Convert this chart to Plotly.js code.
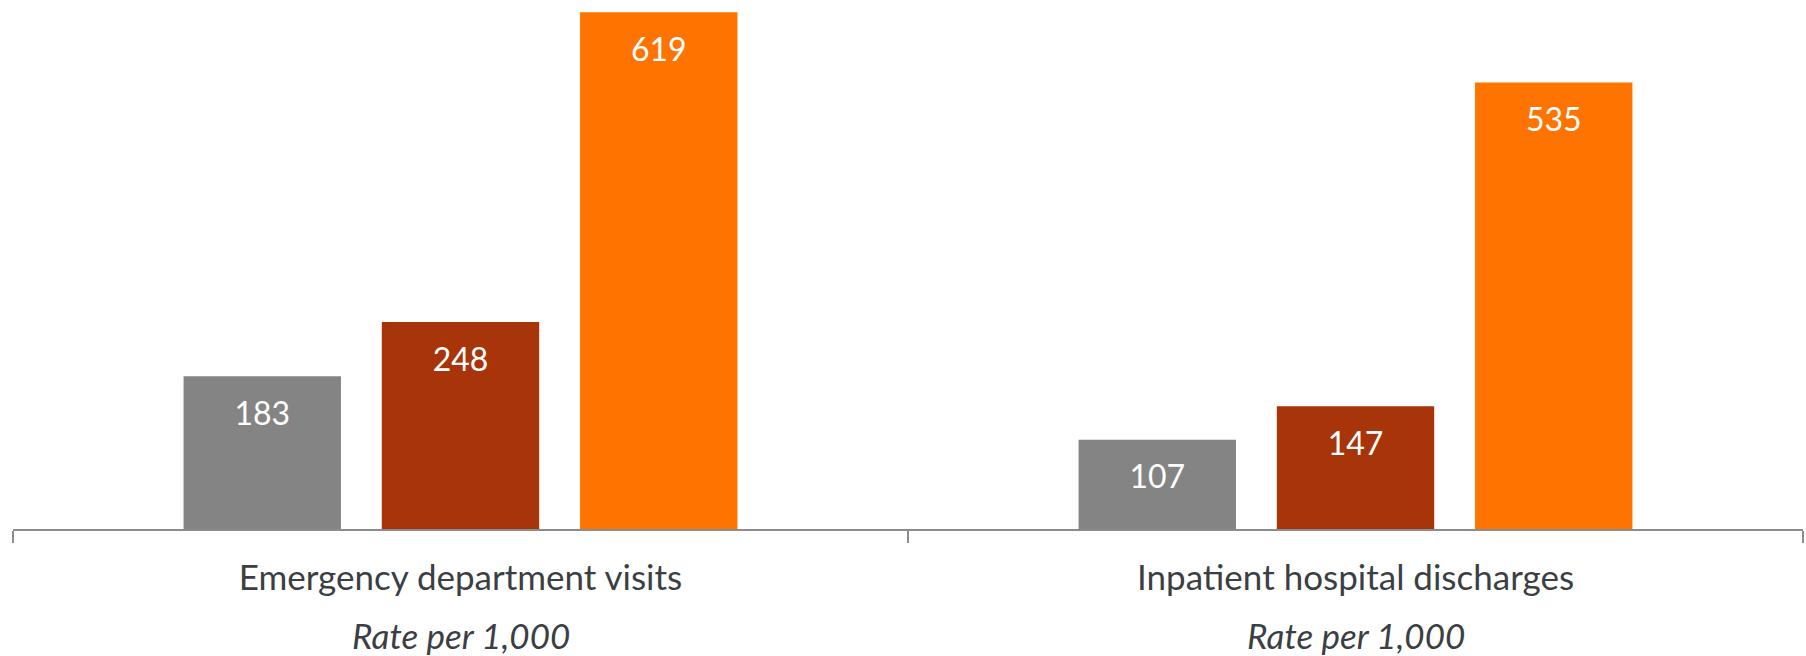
<!DOCTYPE html>
<html>
<head>
<meta charset="utf-8">
<script src="https://cdn.plot.ly/plotly-3.0.1.min.js"></script>
<style>html,body{margin:0;padding:0;background:#fff;}#chart{width:1806px;height:656px;}</style>
</head>
<body>
<div id="chart"></div>
<script>
// Data
const categories = ["Emergency department visits", "Inpatient hospital discharges"];
const subLabels = ["Rate per 1,000", "Rate per 1,000"];
const seriesNames = ["Series 1", "Series 2", "Series 3"];
const series1 = [183, 107];
const series2 = [248, 147];
const series3 = [619, 535];

const allSeries = [series1, series2, series3];
const colors = ["#848484", "#A8340A", "#FF7300"];
const FONT = "Lato, 'Open Sans', sans-serif";

const traces = [];
allSeries.forEach((vals, i) => {
  traces.push({
    type: "bar",
    name: seriesNames[i],
    x: categories,
    y: vals,
    marker: {color: colors[i], line: {width: 0}},
    textposition: "none",
    hoverinfo: "skip",
    showlegend: false,
    offsetgroup: String(i)
  });
});
allSeries.forEach((vals, i) => {
  traces.push({
    type: "scatter",
    mode: "markers+text",
    x: categories,
    y: vals,
    text: vals.map(String),
    textposition: "bottom center",
    textfont: {family: FONT, size: 32, color: "#ffffff"},
    marker: {size: 38, opacity: 0, color: colors[i]},
    hoverinfo: "skip",
    showlegend: false,
    offsetgroup: String(i),
    cliponaxis: false
  });
});

const annotations = categories.map((c, i) => ({
  x: c, xref: "x", y: -0.2007, yref: "paper",
  text: "<i>" + subLabels[i] + "</i>",
  showarrow: false, xanchor: "center", yanchor: "middle",
  font: {family: FONT, size: 35, color: "#3b3f44"}
}));

const layout = {
  width: 1806, height: 656,
  margin: {l: 13, r: 3, t: 0, b: 127, pad: 0},
  paper_bgcolor: "#ffffff", plot_bgcolor: "#ffffff",
  barmode: "group",
  bargap: 0.3355,
  bargroupgap: 0.206,
  scattermode: "group",
  scattergap: 0.3355,
  xaxis: {
    type: "category",
    tickson: "boundaries",
    ticks: "outside", ticklen: 12, tickwidth: 2, tickcolor: "#8c8c8c",
    showline: true, linecolor: "#8c8c8c", linewidth: 2,
    showgrid: false, zeroline: false,
    tickfont: {family: FONT, size: 35, color: "#3b3f44"},
    ticklabelstandoff: 17,
    fixedrange: true
  },
  yaxis: {
    range: [0, 633.8],
    visible: false, showgrid: false, zeroline: false, fixedrange: true
  },
  annotations: annotations,
  showlegend: false,
  hovermode: false
};

Plotly.newPlot("chart", traces, layout, {displayModeBar: false, staticPlot: true});
</script>
</body>
</html>
